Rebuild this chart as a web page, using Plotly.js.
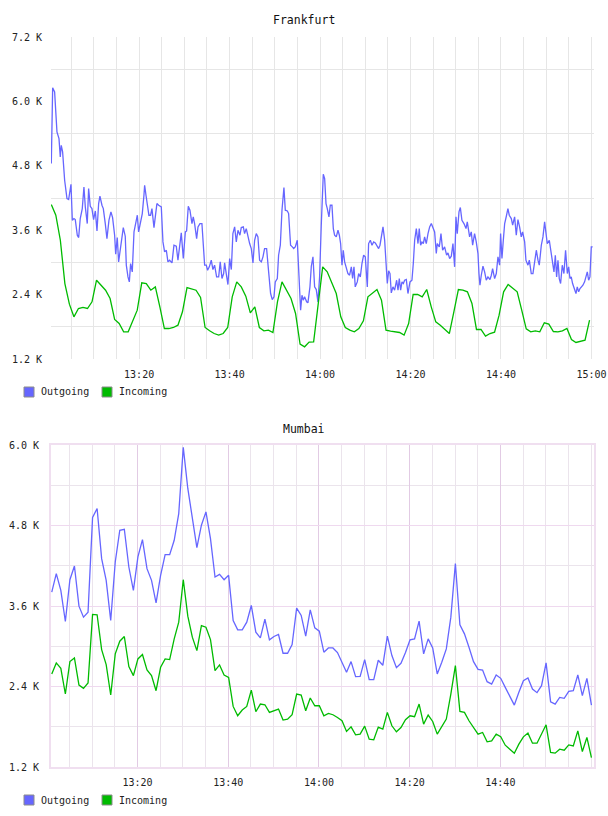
<!DOCTYPE html>
<html>
<head>
<meta charset="utf-8">
<script src="https://cdn.plot.ly/plotly-3.0.1.min.js"></script>
<style>
  html, body { margin: 0; padding: 0; background: #ffffff; }
  #chart { width: 608px; height: 816px; }
</style>
</head>
<body>
<div id="chart"></div>
<script>
// ---- series names & colours ----
const SERIES_NAMES = ['Outgoing', 'Incoming'];
const SERIES_COLORS = ['#6666ff', '#00bb00'];
const PANEL_TITLES = ['Frankfurt', 'Mumbai'];

// ---- y tick labels (values in thousands) ----
const FR_Y_TICKS = [1.2, 2.4, 3.6, 4.8, 6.0, 7.2];
const FR_Y_GRID = [1.8, 3.0, 4.2, 5.4, 6.6];
const MU_Y_TICKS = [1.2, 2.4, 3.6, 4.8, 6.0];
const MU_Y_GRID = [1.8, 3.0, 4.2, 5.4];

// ---- Frankfurt outgoing: sample time (minutes after 13:00) and value (K) ----
const FR_OUT_MIN = [
  0.58, 0.88, 1.32, 1.84, 2.28, 2.57, 2.79, 3.09, 3.53, 4.05,
  4.41, 4.93, 5.23, 5.59, 5.89, 6.33, 6.63, 6.99, 7.44, 7.80,
  8.10, 8.54, 8.84, 9.20, 9.57, 9.94, 10.31, 10.68, 11.05, 11.34,
  11.78, 12.08, 12.52, 12.89, 13.33, 13.77, 14.14, 14.58, 14.81, 15.17,
  15.47, 15.91, 16.21, 16.50, 16.94, 17.16, 17.53, 17.83, 18.12, 18.49,
  18.86, 19.23, 19.60, 19.89, 20.33, 20.70, 21.07, 21.22, 21.51, 21.81,
  22.17, 22.54, 22.84, 23.28, 23.57, 23.94, 24.31, 24.90, 25.27, 25.64,
  26.01, 26.37, 26.74, 27.26, 27.70, 28.22, 28.59, 28.95, 29.32, 29.76,
  30.21, 30.50, 30.87, 31.24, 31.68, 31.97, 32.27, 32.71, 33.01, 33.45,
  33.89, 34.48, 34.85, 35.14, 35.51, 35.95, 36.32, 36.69, 37.13, 37.58,
  37.94, 38.31, 38.68, 38.90, 39.27, 39.64, 40.01, 40.38, 40.74, 41.11,
  41.48, 41.85, 42.29, 42.59, 43.03, 43.32, 43.69, 44.06, 44.43, 44.80,
  45.17, 45.53, 45.90, 46.27, 46.64, 47.01, 47.38, 47.74, 48.19, 48.63,
  49.07, 49.44, 49.81, 50.10, 50.55, 50.84, 51.21, 51.58, 52.02, 52.31,
  52.76, 53.05, 53.49, 53.86, 54.16, 54.52, 54.97, 55.34, 55.70, 56.00,
  56.29, 56.59, 57.03, 57.32, 57.77, 58.06, 58.43, 58.80, 59.17, 59.53,
  59.90, 60.27,
  60.72, 61.01, 61.31, 61.60, 61.97, 62.27, 62.63, 62.93, 63.22, 63.59,
  63.96, 64.26, 64.55, 64.85, 65.14, 65.44, 65.80, 66.17, 66.54, 66.91,
  67.20, 67.50, 67.79, 68.24, 68.53, 68.90, 69.27, 69.64, 70.00, 70.45,
  70.74, 71.11, 71.48, 71.85, 72.21, 72.58, 72.95, 73.25, 73.54, 73.91,
  74.28, 74.57, 74.87, 75.16, 75.46, 75.75, 76.12, 76.49, 76.93, 77.23,
  77.52, 77.82, 78.11, 78.41, 78.70, 79.07, 79.44, 79.88, 80.32, 80.62,
  80.91, 81.28, 81.65, 81.94, 82.24, 82.53, 82.83, 83.12, 83.49, 83.86,
  84.23, 84.60, 84.96, 85.33, 85.70, 85.92, 86.36, 86.73, 87.10, 87.54,
  87.98, 88.28, 88.65, 89.02, 89.38, 89.75, 90.05, 90.34, 90.71, 91.01,
  91.37, 91.82, 92.26, 92.55, 93.07, 93.44, 93.73, 94.17, 94.54, 94.91,
  95.13, 95.35, 95.65, 96.02, 96.39, 96.75, 97.12, 97.56, 97.86, 98.15,
  98.60, 98.96, 99.33, 99.70, 99.92, 100.22, 100.51, 100.81, 101.18, 101.54,
  101.84, 102.28, 102.58, 103.02, 103.39, 103.75, 104.12, 104.49, 104.79, 105.23,
  105.52, 105.97, 106.26, 106.70, 107.07, 107.44, 107.81, 108.18, 108.47, 108.91,
  109.28, 109.65, 109.94, 110.24, 110.68, 111.12, 111.42, 111.71, 112.01, 112.30,
  112.60, 112.89, 113.19, 113.55, 113.92, 114.29, 114.66, 114.96, 115.25, 115.54,
  115.84, 116.28, 116.58, 116.87, 117.17, 117.46, 117.76, 118.12, 118.49, 118.79,
  119.08, 119.38, 119.67, 119.97, 120.26
];
const FR_OUT_K = [
  4.841, 6.256, 6.176, 5.431, 5.307, 4.965, 5.182, 5.058, 4.531, 4.189,
  4.171, 4.456, 3.786, 3.817, 3.798, 3.506, 3.463, 3.817, 4.003, 4.406,
  4.034, 3.724, 4.375, 4.046, 4.003, 3.798, 3.959, 3.587, 4.096, 4.233,
  4.065, 4.003, 3.724, 3.444, 3.786, 3.941, 3.835, 3.506, 3.152, 3.463,
  3.010, 3.289, 3.475, 3.649, 3.488, 2.948, 2.730, 2.637, 2.979, 2.823,
  3.568, 3.755, 3.879, 3.568, 3.755, 3.910, 4.251, 4.437, 4.251, 4.065,
  3.879, 3.879, 4.003, 3.649, 3.848, 4.096, 4.065, 4.034, 3.382, 3.196,
  3.227, 3.010, 3.041, 2.991, 3.320, 3.301, 3.041, 3.351, 3.550, 3.072,
  3.568, 3.587, 4.046, 3.972, 3.724, 3.848, 3.724, 3.444, 3.661, 3.724,
  3.724, 2.948, 2.948, 2.854, 2.917, 3.041, 2.867, 2.948, 2.730, 2.730,
  3.010, 2.699, 2.792, 2.991, 2.730, 2.587, 3.072, 2.867, 3.537, 3.661,
  3.382, 3.599, 3.506, 3.649, 3.661, 3.537, 3.630, 3.475, 3.351, 3.258,
  2.991, 3.413, 3.537, 3.475, 3.041, 3.010, 3.103, 3.258, 3.258, 2.823,
  2.420, 2.308, 2.358, 2.637, 2.699, 3.134, 3.320, 3.972, 4.394, 3.972,
  3.959, 3.910, 3.320, 3.289, 3.258, 3.289, 3.413, 2.761, 2.109, 2.389,
  2.296, 2.358, 2.265, 2.246, 2.544, 2.929, 3.103, 2.544, 2.494, 2.265,
  2.730, 3.693,
  4.642, 4.562, 4.096, 4.003, 3.848, 4.065, 4.065, 3.630, 3.506, 3.475,
  3.599, 3.506, 3.351, 2.948, 3.227, 3.010, 2.885, 2.792, 2.761, 2.917,
  2.699, 2.917, 2.544, 2.637, 2.792, 2.730, 2.979, 3.134, 3.103, 2.544,
  3.351, 3.413, 3.320, 3.382, 3.364, 3.308, 3.258, 3.320, 3.475, 3.661,
  3.413, 2.917, 2.606, 2.842, 2.792, 2.432, 2.544, 2.482, 2.668, 2.482,
  2.699, 2.482, 2.637, 2.606, 2.668, 2.681, 2.420, 2.637, 2.668, 2.979,
  3.413, 3.630, 3.351, 3.630, 3.320, 3.382, 3.351, 3.475, 3.351, 3.537,
  3.661, 3.724, 3.661, 3.568, 3.165, 3.351, 3.289, 3.537, 3.227, 3.289,
  3.134, 3.177, 3.072, 3.115, 3.351, 2.917, 3.848, 3.537, 3.941, 4.022,
  3.786, 3.724, 3.630, 3.755, 3.475, 3.568, 3.320, 3.537, 3.382, 3.165,
  2.792, 2.575, 2.761, 2.929, 2.823, 2.668, 2.730, 2.681, 2.761, 2.885,
  2.699, 2.792, 3.103, 2.948, 3.537, 3.072, 3.413, 3.724, 3.860, 4.003,
  3.879, 3.817, 3.693, 3.848, 3.506, 3.798, 3.661, 3.475, 3.568, 3.382,
  3.041, 2.948, 3.041, 2.792, 2.792, 3.041, 3.227, 3.041, 2.948, 3.320,
  3.475, 3.755, 3.537, 3.351, 3.413, 3.134, 3.010, 2.823, 3.134, 2.730,
  3.041, 2.699, 2.606, 2.948, 2.792, 3.227, 2.792, 2.917, 2.699, 2.730,
  2.606, 2.513, 2.420, 2.544, 2.451, 2.513, 2.544, 2.575, 2.637, 2.761,
  2.823, 2.668, 2.730, 3.289, 3.289
];

// ---- Frankfurt incoming: one sample per minute from 13:00:35 (K) ----
const FR_IN_START = '13:00:35';
const FR_IN_K = [
  4.078, 3.879, 3.413, 2.606, 2.222, 1.986, 2.141, 2.160, 2.141, 2.265,
  2.668, 2.575, 2.482, 2.327, 1.936, 1.861, 1.706, 1.706, 1.905, 2.110,
  2.619, 2.606, 2.482, 2.544, 2.172, 1.768, 1.768, 1.787, 1.830, 2.079,
  2.532, 2.513, 2.482, 2.346, 1.787, 1.725, 1.675, 1.644, 1.675, 1.787,
  2.358, 2.637, 2.544, 2.371, 2.060, 2.172, 1.787, 1.725, 1.737, 1.694,
  2.265, 2.637, 2.482, 2.327, 2.048, 1.477, 1.427, 1.514, 1.520, 2.222,
  2.917, 2.824, 2.637, 2.420, 1.986, 1.787, 1.737, 1.706, 1.768, 1.911,
  2.358, 2.433, 2.495, 2.296, 1.737, 1.719, 1.706, 1.694, 1.644, 1.861,
  2.402, 2.402, 2.358, 2.495, 2.172, 1.892, 1.830, 1.750, 1.675, 2.079,
  2.495, 2.482, 2.451, 2.234, 1.750, 1.750, 1.626, 1.675, 1.700, 2.017,
  2.451, 2.588, 2.513, 2.451, 2.110, 1.762, 1.706, 1.725, 1.706, 1.874,
  1.849, 1.712, 1.706, 1.725, 1.768, 1.563, 1.508, 1.526, 1.551, 1.924
];

// ---- Mumbai: one sample per minute from 13:01:05 (K) ----
const MU_START = '13:01:05';
const MU_OUT_K = [
  3.807, 4.082, 3.832, 3.369, 3.992, 4.196, 3.598, 3.434, 3.508, 4.919,
  5.053, 4.306, 3.982, 3.384, 4.256, 4.729, 4.744, 4.181, 3.832, 4.331,
  4.590, 4.156, 3.982, 3.648, 4.057, 4.366, 4.366, 4.580, 4.978, 5.965,
  5.352, 4.929, 4.470, 4.804, 5.003, 4.605, 4.032, 4.072, 3.992, 4.057,
  3.384, 3.244, 3.244, 3.359, 3.608, 3.210, 3.125, 3.404, 3.095, 3.145,
  3.175, 2.896, 2.896, 3.025, 3.568, 3.459, 3.150, 3.543, 3.274, 3.224,
  2.911, 2.975, 2.975, 2.906, 2.771, 2.612, 2.771, 2.547, 2.552, 2.801,
  2.502, 2.502, 2.791, 2.716, 3.150, 2.861, 2.681, 2.746, 2.906, 3.095,
  3.110, 3.374, 2.886, 3.110, 2.975, 2.587, 2.761, 2.960, 3.434, 4.231,
  3.319, 3.185, 2.985, 2.771, 2.656, 2.646, 2.472, 2.437, 2.572, 2.522,
  2.387, 2.253, 2.123, 2.313, 2.487, 2.527, 2.362, 2.308, 2.412, 2.751,
  2.173, 2.138, 2.238, 2.223, 2.328, 2.338, 2.572, 2.263, 2.522, 2.123
];
const MU_IN_K = [
  2.587, 2.751, 2.671, 2.288, 2.771, 2.826, 2.422, 2.372, 2.452, 3.474,
  3.469, 2.950, 2.726, 2.273, 2.886, 3.075, 3.145, 2.696, 2.562, 2.811,
  2.876, 2.646, 2.562, 2.337, 2.686, 2.811, 2.801, 3.110, 3.359, 3.992,
  3.449, 3.135, 2.935, 3.309, 3.284, 3.100, 2.636, 2.721, 2.572, 2.537,
  2.103, 1.964, 2.049, 2.103, 2.347, 2.024, 2.138, 2.128, 2.014, 2.039,
  2.064, 1.899, 1.914, 1.979, 2.288, 2.273, 2.039, 2.228, 2.113, 2.113,
  1.964, 1.999, 1.979, 1.939, 1.889, 1.730, 1.799, 1.680, 1.690, 1.809,
  1.615, 1.605, 1.794, 1.764, 2.014, 1.814, 1.725, 1.789, 1.904, 1.964,
  1.949, 2.138, 1.839, 1.974, 1.879, 1.690, 1.799, 1.914, 2.288, 2.711,
  2.029, 2.014, 1.889, 1.779, 1.690, 1.715, 1.575, 1.590, 1.690, 1.650,
  1.525, 1.465, 1.406, 1.540, 1.650, 1.705, 1.555, 1.555, 1.690, 1.829,
  1.416, 1.406, 1.465, 1.450, 1.530, 1.515, 1.739, 1.430, 1.640, 1.341
];

// ---- time helpers ----
const DAY = '2024-05-14';
const pad = n => String(n).padStart(2, '0');
function clock(sec) {
  sec = Math.round(sec);
  const h = Math.floor(sec / 3600), m = Math.floor((sec % 3600) / 60), s = sec % 60;
  return `${DAY} ${pad(h)}:${pad(m)}:${pad(s)}`;
}
function toSec(hms) { const [h, m, s] = hms.split(':').map(Number); return h * 3600 + m * 60 + s; }
const perMinute = (start, n) => Array.from({length: n}, (_, i) => clock(toSec(start) + 60 * i));

const frOutX = FR_OUT_MIN.map(m => clock(13 * 3600 + m * 60));
const frInX = perMinute(FR_IN_START, FR_IN_K.length);
const muX = perMinute(MU_START, MU_OUT_K.length);

const kLabel = v => v.toFixed(1) + ' K';
const every5min = (from, to) => { const out = []; for (let s = toSec(from); s <= toSec(to); s += 300) out.push(clock(s)); return out; };

// ---- page geometry ----
const W = 608, H = 816;
const M = {l: 51, r: 14, t: 37, b: 49};
const plotW = W - M.l - M.r, plotH = H - M.t - M.b;
const pxX = x => (x - M.l) / plotW;
const pxY = y => (H - M.b - y) / plotH;

const FONT = 'DejaVu Sans Mono';
const tickFont = {family: FONT, size: 10, color: '#222'};

const line = (x, y, i, xa, ya) => ({
  type: 'scatter', mode: 'lines', x, y, xaxis: xa, yaxis: ya,
  name: SERIES_NAMES[i], showlegend: false, hoverinfo: 'skip',
  line: {color: SERIES_COLORS[i], width: 1.3}
});

const data = [
  line(frOutX, FR_OUT_K, 0, 'x', 'y'),
  line(frInX, FR_IN_K, 1, 'x', 'y'),
  line(muX, MU_OUT_K, 0, 'x2', 'y2'),
  line(muX, MU_IN_K, 1, 'x2', 'y2')
];

const frGrid = '#e6e6e6';
const muMajor = '#e2cbe4';
const muMinor = '#ebe4ec';
const muBorder = '#f0dff0';

const layout = {
  width: W, height: H,
  margin: M,
  paper_bgcolor: '#ffffff', plot_bgcolor: '#ffffff',
  showlegend: false,
  font: {family: FONT, size: 10, color: '#222'},
  xaxis: {
    type: 'date', anchor: 'y', domain: [0, 1],
    range: [clock(toSec('13:00:31')), clock(toSec('15:00:34'))],
    tickmode: 'linear', tick0: clock(toSec('13:00:00')), dtick: 20 * 60 * 1000,
    tickformat: '%H:%M', tickfont: tickFont, ticks: '', ticklabelstandoff: 8,
    showgrid: true, gridcolor: frGrid, gridwidth: 1, zeroline: false, showline: false,
    minor: {tickmode: 'linear', tick0: clock(toSec('13:00:00')), dtick: 5 * 60 * 1000, showgrid: true, gridcolor: frGrid, gridwidth: 1, ticks: ''}
  },
  yaxis: {
    anchor: 'x', domain: [pxY(359), 1], range: [1.2, 7.2],
    tickmode: 'array', tickvals: FR_Y_TICKS, ticktext: FR_Y_TICKS.map(kLabel),
    tickfont: tickFont, ticks: '', ticklabelstandoff: 8,
    showgrid: false, zeroline: false, showline: false,
    minor: {tickmode: 'array', tickvals: FR_Y_GRID, showgrid: true, gridcolor: frGrid, gridwidth: 1, ticks: ''}
  },
  xaxis2: {
    type: 'date', anchor: 'y2', domain: [0, 1],
    range: [clock(toSec('13:00:55')), clock(toSec('15:00:39'))],
    tickmode: 'array', tickvals: ['13:20:00', '13:40:00', '14:00:00', '14:20:00', '14:40:00'].map(t => clock(toSec(t))),
    tickformat: '%H:%M', tickfont: tickFont, ticks: '', ticklabelstandoff: 5,
    showgrid: true, gridcolor: muMajor, gridwidth: 1, zeroline: false,
    showline: true, mirror: true, linecolor: muBorder, linewidth: 2,
    minor: {tickmode: 'array', tickvals: every5min('13:05:00', '15:00:00'), showgrid: true, gridcolor: muMinor, gridwidth: 1, ticks: ''}
  },
  yaxis2: {
    anchor: 'x2', domain: [0, pxY(445)], range: [1.2, 6.0],
    tickmode: 'array', tickvals: MU_Y_TICKS, ticktext: MU_Y_TICKS.map(kLabel),
    tickfont: tickFont, ticks: '', ticklabelstandoff: 8,
    showgrid: true, gridcolor: '#efd9ef', gridwidth: 1, zeroline: false,
    showline: true, mirror: true, linecolor: muBorder, linewidth: 2,
    minor: {tickmode: 'array', tickvals: MU_Y_GRID, showgrid: true, gridcolor: muMinor, gridwidth: 1, ticks: ''}
  },
  annotations: [],
  shapes: []
};

// panel titles
[[PANEL_TITLES[0], 20], [PANEL_TITLES[1], 429]].forEach(([text, y]) => {
  layout.annotations.push({
    text, xref: 'paper', yref: 'paper', x: pxX(W / 2), y: pxY(y),
    xanchor: 'center', yanchor: 'middle', showarrow: false,
    font: {family: FONT, size: 11.5, color: '#111'}
  });
});

// legends below each panel: swatch + label
const LEGEND_ROWS = [392, 800];
const SWATCH_LEFT = [24, 102];
LEGEND_ROWS.forEach(cy => {
  SERIES_NAMES.forEach((name, i) => {
    const x0 = SWATCH_LEFT[i];
    layout.shapes.push({
      type: 'rect', xref: 'paper', yref: 'paper',
      x0: pxX(x0), x1: pxX(x0 + 10), y0: pxY(cy + 5), y1: pxY(cy - 5),
      fillcolor: SERIES_COLORS[i], line: {color: '#8c8c8c', width: 1}, layer: 'above'
    });
    layout.annotations.push({
      text: name, xref: 'paper', yref: 'paper', x: pxX(x0 + 15), y: pxY(cy),
      xanchor: 'left', yanchor: 'middle', showarrow: false,
      font: {family: FONT, size: 10, color: '#222'}
    });
  });
});

Plotly.newPlot('chart', data, layout, {staticPlot: true, displayModeBar: false});
</script>
</body>
</html>
